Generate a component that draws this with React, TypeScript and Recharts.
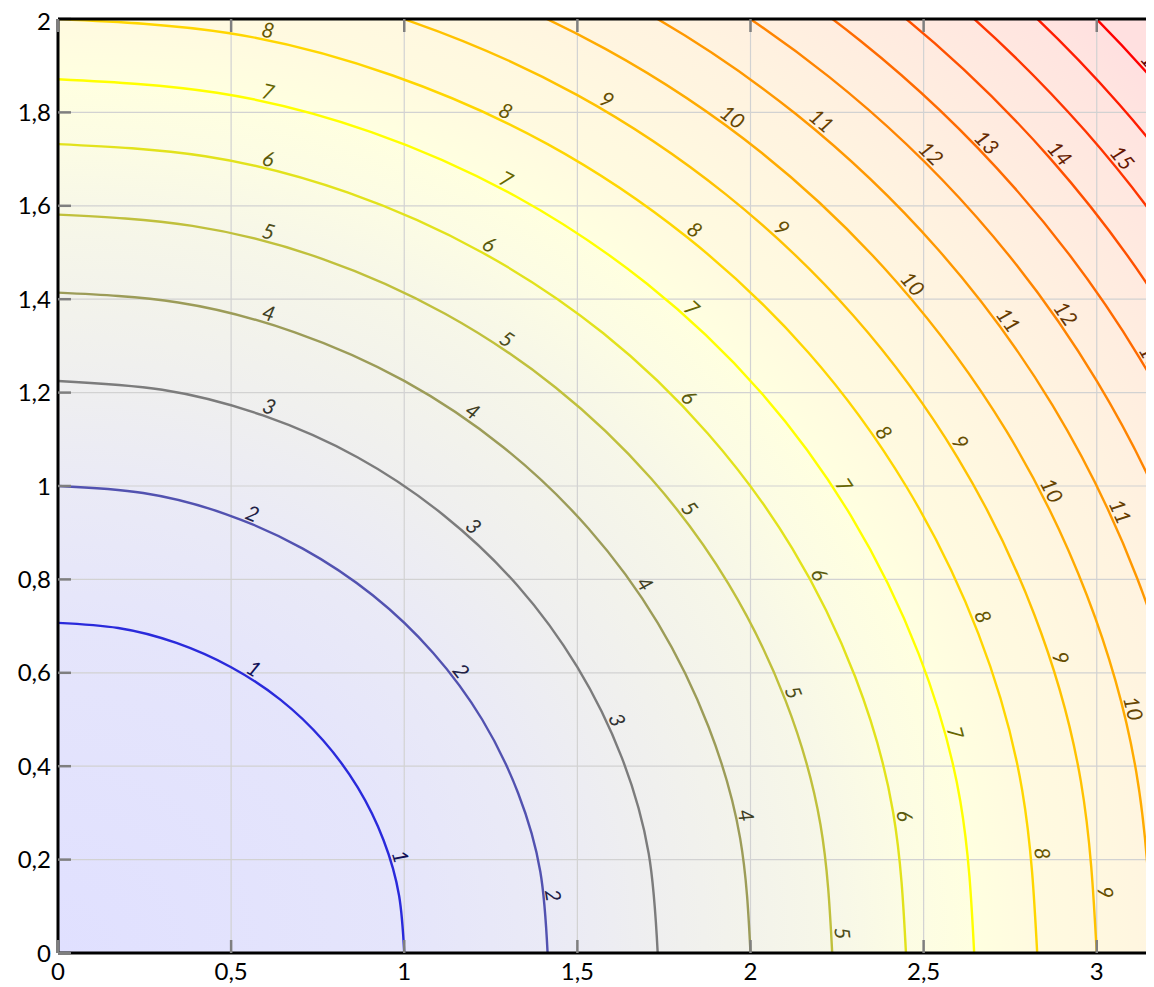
import { ComposedChart, Line, Scatter, XAxis, YAxis, CartesianGrid } from 'recharts';

type Pt = [number, number];

// iso lines, each running from the y axis round to the x axis
const contour1: Pt[] = [[0, 0.707], [0.174, 0.696], [0.342, 0.664], [0.5, 0.612], [0.643, 0.542], [0.766, 0.455], [0.866, 0.354], [0.94, 0.242], [0.985, 0.123], [1, 0]];
const contour2: Pt[] = [[0, 1], [0.246, 0.985], [0.484, 0.94], [0.707, 0.866], [0.909, 0.766], [1.083, 0.643], [1.225, 0.5], [1.329, 0.342], [1.393, 0.174], [1.414, 0]];
const contour3: Pt[] = [[0, 1.225], [0.301, 1.206], [0.592, 1.151], [0.866, 1.061], [1.113, 0.938], [1.327, 0.787], [1.5, 0.612], [1.628, 0.419], [1.706, 0.213], [1.732, 0]];
const contour4: Pt[] = [[0, 1.414], [0.347, 1.393], [0.684, 1.329], [1, 1.225], [1.286, 1.083], [1.532, 0.909], [1.732, 0.707], [1.879, 0.484], [1.97, 0.246], [2, 0]];
const contour5: Pt[] = [[0, 1.581], [0.388, 1.557], [0.765, 1.486], [1.118, 1.369], [1.437, 1.211], [1.713, 1.016], [1.936, 0.791], [2.101, 0.541], [2.202, 0.275], [2.236, 0]];
const contour6: Pt[] = [[0, 1.732], [0.425, 1.706], [0.838, 1.628], [1.225, 1.5], [1.575, 1.327], [1.876, 1.113], [2.121, 0.866], [2.302, 0.592], [2.412, 0.301], [2.449, 0]];
const contour7: Pt[] = [[0, 1.871], [0.459, 1.842], [0.905, 1.758], [1.323, 1.62], [1.701, 1.433], [2.027, 1.203], [2.291, 0.935], [2.486, 0.64], [2.606, 0.325], [2.646, 0]];
const contour8: Pt[] = [[0, 2], [0.491, 1.97], [0.967, 1.879], [1.414, 1.732], [1.818, 1.532], [2.167, 1.286], [2.449, 1], [2.658, 0.684], [2.785, 0.347], [2.828, 0]];
const contour9: Pt[] = [[0, 2.121], [0.521, 2.089], [1.026, 1.993], [1.5, 1.837], [1.928, 1.625], [2.298, 1.364], [2.598, 1.061], [2.819, 0.726], [2.954, 0.368], [3, 0]];
const contour10: Pt[] = [[0, 2.236], [0.549, 2.202], [1.082, 2.101], [1.581, 1.936], [2.033, 1.713], [2.422, 1.437], [2.739, 1.118], [2.972, 0.765], [3.114, 0.388], [3.162, 0]];
const contour11: Pt[] = [[0, 2.345], [0.576, 2.31], [1.134, 2.204], [1.658, 2.031], [2.132, 1.796], [2.541, 1.507], [2.872, 1.173], [3.117, 0.802], [3.266, 0.407], [3.317, 0]];
const contour12: Pt[] = [[0, 2.449], [0.602, 2.412], [1.185, 2.302], [1.732, 2.121], [2.227, 1.876], [2.654, 1.575], [3, 1.225], [3.255, 0.838], [3.411, 0.425], [3.464, 0]];
const contour13: Pt[] = [[0, 2.55], [0.626, 2.511], [1.233, 2.396], [1.803, 2.208], [2.318, 1.953], [2.762, 1.639], [3.123, 1.275], [3.388, 0.872], [3.551, 0.443], [3.606, 0]];
const contour14: Pt[] = [[0, 2.646], [0.65, 2.606], [1.28, 2.486], [1.871, 2.291], [2.405, 2.027], [2.866, 1.701], [3.24, 1.323], [3.516, 0.905], [3.685, 0.459], [3.742, 0]];
const contour15: Pt[] = [[0, 2.739], [0.673, 2.697], [1.325, 2.573], [1.937, 2.372], [2.49, 2.098], [2.967, 1.76], [3.354, 1.369], [3.639, 0.937], [3.814, 0.476], [3.873, 0]];
const contour16: Pt[] = [[0, 2.828], [0.695, 2.785], [1.368, 2.658], [2, 2.449], [2.571, 2.167], [3.064, 1.818], [3.464, 1.414], [3.759, 0.967], [3.939, 0.491], [4, 0]];
const contour17: Pt[] = [[0, 2.915], [0.716, 2.871], [1.41, 2.74], [2.062, 2.525], [2.65, 2.233], [3.158, 1.874], [3.571, 1.458], [3.874, 0.997], [4.06, 0.506], [4.123, 0]];

const levels = [1, 2, 3, 4, 5, 6, 7, 8, 9, 10, 11, 12, 13, 14, 15, 16, 17];
const contours: Pt[][] = [
  contour1, contour2, contour3, contour4, contour5, contour6, contour7, contour8, contour9,
  contour10, contour11, contour12, contour13, contour14, contour15, contour16, contour17,
];

// inline labels: level and the point on its line
const labels = [
  { level: 1, x: 0.55, y: 0.59 }, { level: 1, x: 0.96, y: 0.2 },
  { level: 2, x: 0.55, y: 0.92 }, { level: 2, x: 1.14, y: 0.59 }, { level: 2, x: 1.4, y: 0.12 },
  { level: 3, x: 0.6, y: 1.149 }, { level: 3, x: 1.18, y: 0.897 }, { level: 3, x: 1.587, y: 0.49 },
  { level: 4, x: 0.6, y: 1.349 }, { level: 4, x: 1.18, y: 1.142 }, { level: 4, x: 1.67, y: 0.778 }, { level: 4, x: 1.957, y: 0.29 },
  { level: 5, x: 0.6, y: 1.523 }, { level: 5, x: 1.28, y: 1.296 }, { level: 5, x: 1.8, y: 0.938 }, { level: 5, x: 2.096, y: 0.55 }, { level: 5, x: 2.235, y: 0.04 },
  { level: 6, x: 0.6, y: 1.679 }, { level: 6, x: 1.23, y: 1.498 }, { level: 6, x: 1.8, y: 1.175 }, { level: 6, x: 2.172, y: 0.8 }, { level: 6, x: 2.415, y: 0.29 },
  { level: 7, x: 0.6, y: 1.822 }, { level: 7, x: 1.28, y: 1.637 }, { level: 7, x: 1.81, y: 1.364 }, { level: 7, x: 2.245, y: 0.99 }, { level: 7, x: 2.562, y: 0.466 },
  { level: 8, x: 0.6, y: 1.954 }, { level: 8, x: 1.28, y: 1.783 }, { level: 8, x: 1.82, y: 1.531 }, { level: 8, x: 2.36, y: 1.102 }, { level: 8, x: 2.643, y: 0.712 }, { level: 8, x: 2.813, y: 0.21 },
  { level: 9, x: 1.57, y: 1.808 }, { level: 9, x: 2.07, y: 1.536 }, { level: 9, x: 2.58, y: 1.082 }, { level: 9, x: 2.867, y: 0.625 }, { level: 9, x: 2.995, y: 0.127 },
  { level: 10, x: 1.93, y: 1.772 }, { level: 10, x: 2.445, y: 1.418 }, { level: 10, x: 2.843, y: 0.98 }, { level: 10, x: 3.076, y: 0.518 },
  { level: 11, x: 2.185, y: 1.765 }, { level: 11, x: 2.72, y: 1.342 }, { level: 11, x: 3.04, y: 0.936 },
  { level: 12, x: 2.5, y: 1.696 }, { level: 12, x: 2.885, y: 1.356 },
  { level: 13, x: 2.66, y: 1.72 }, { level: 13, x: 3.13, y: 1.265 },
  { level: 14, x: 2.87, y: 1.697 },
  { level: 15, x: 3.05, y: 1.688 },
  { level: 17, x: 3.14, y: 1.889 },
];

const xTicks = [0, 0.5, 1, 1.5, 2, 2.5, 3];
const yTicks = [0, 0.2, 0.4, 0.6, 0.8, 1, 1.2, 1.4, 1.6, 1.8, 2];
const X_MAX = 3.2;
const Y_MAX = 2;
// corners of the frame, only used to give the frame axes a domain
const frame = [{ x: 0, y: 0 }, { x: X_MAX, y: Y_MAX }];

const LINE_COLORS: Record<number, string> = {
  0: '#0000ff', 1: '#2a2adb', 2: '#5252b0', 3: '#7c7c7c', 4: '#9c9c58', 5: '#c0c03c',
  6: '#e2e21c', 7: '#ffff00', 8: '#ffd600', 9: '#ffc200', 10: '#ffab00', 11: '#ff9800',
  12: '#ff8400', 13: '#ff6a00', 14: '#ff5000', 15: '#ff3500', 16: '#ff1c00', 17: '#ff0000',
};

const W = 1168;
const H = 979;
const MARGIN = { top: 11, right: 10, bottom: 0, left: 0 };
const Y_AXIS_W = 50;
const X_AXIS_H = 34;
const PLOT_W = W - MARGIN.left - MARGIN.right - Y_AXIS_W;
const PLOT_H = H - MARGIN.top - MARGIN.bottom - X_AXIS_H;
const KX = PLOT_W / X_MAX;
const KY = PLOT_H / Y_MAX;
const FONT = 'Lato, "Open Sans", sans-serif';

const rgb = (hex: string) => [1, 3, 5].map((i) => parseInt(hex.slice(i, i + 2), 16));
const toHex = (c: number[]) => '#' + c.map((v) => Math.round(v).toString(16).padStart(2, '0')).join('');
const shade = (hex: string, k: number) => toHex(rgb(hex).map((v) => v * k));
const tint = (hex: string, k: number) => toHex(rgb(hex).map((v) => 255 - (255 - v) * k));
const comma = (v: number) => String(v).replace('.', ',');
const noLabel = () => <g />;

// text direction follows the line (in pixels), blended between neighbouring segments
function labelAngle(level: number, x: number, y: number) {
  const pts = contours[levels.indexOf(level)].map(([px, py]) => [px * KX, -py * KY]);
  const lx = x * KX;
  const ly = -y * KY;
  const seg = pts.slice(0, -1).map((p, i) => Math.atan2(pts[i + 1][1] - p[1], pts[i + 1][0] - p[0]));
  const vert = pts.map((_, i) => {
    if (i === 0) return seg[0];
    if (i === pts.length - 1) return seg[seg.length - 1];
    return (seg[i - 1] + seg[i]) / 2;
  });
  let best = 0;
  let bestU = 0;
  let bestD = Infinity;
  for (let i = 0; i < seg.length; i++) {
    const [ax, ay] = pts[i];
    const dx = pts[i + 1][0] - ax;
    const dy = pts[i + 1][1] - ay;
    const u = Math.max(0, Math.min(1, ((lx - ax) * dx + (ly - ay) * dy) / (dx * dx + dy * dy)));
    const d = Math.hypot(ax + u * dx - lx, ay + u * dy - ly);
    if (d < bestD) {
      bestD = d;
      best = i;
      bestU = u;
    }
  }
  const a = vert[best] + (vert[best + 1] - vert[best]) * bestU;
  return (a * 180) / Math.PI;
}

function ContourLabel(props: any) {
  const { cx, cy, payload } = props;
  if (cx == null || cy == null) return null;
  const angle = labelAngle(payload.level, payload.x, payload.y);
  return (
    <text
      transform={`translate(${cx} ${cy}) rotate(${angle})`}
      y={-3}
      textAnchor="middle"
      fill={shade(LINE_COLORS[payload.level], 0.4)}
      fontFamily={FONT}
      fontStyle="italic"
      fontSize={21}
    >
      {payload.level}
    </text>
  );
}

export default function App() {
  const ox = MARGIN.left + Y_AXIS_W;
  const oy = MARGIN.top + PLOT_H;
  const outer = contour17[contour17.length - 1][0];
  const ratio = (contour1[0][1] * KY) / (contour1[contour1.length - 1][0] * KX);
  const stops = [0, ...levels].map((lv) => {
    const c = lv === 0 ? null : contours[levels.indexOf(lv)];
    const off = c ? c[c.length - 1][0] / outer : 0;
    return <stop key={lv} offset={off} stopColor={tint(LINE_COLORS[lv], 0.12)} />;
  });

  const tickStyle = { fontFamily: FONT, fontSize: 24, fill: '#000' };
  const axisLine = { stroke: '#000', strokeWidth: 3 };
  const innerTick = { stroke: '#7f7f7f', strokeWidth: 2.5 };

  return (
    <div style={{ width: 1146, overflow: 'hidden' }}>
      <style>{'html,body{overflow:hidden}'}</style>
      <ComposedChart width={W} height={H} margin={MARGIN}>
        <defs>
          <radialGradient
            id="field"
            gradientUnits="userSpaceOnUse"
            cx={0}
            cy={0}
            r={outer * KX}
            gradientTransform={`translate(${ox} ${oy}) scale(1 ${ratio})`}
          >
            {stops}
          </radialGradient>
        </defs>
        <CartesianGrid fill="url(#field)" stroke="#d2d2d2" strokeWidth={1.2} />
        <XAxis
          type="number"
          dataKey="x"
          domain={[0, X_MAX]}
          allowDataOverflow
          ticks={xTicks}
          tickFormatter={comma}
          tick={tickStyle}
          axisLine={axisLine}
          tickLine={false}
          tickSize={0}
          tickMargin={10}
          height={X_AXIS_H}
        />
        <YAxis
          type="number"
          dataKey="y"
          domain={[0, Y_MAX]}
          allowDataOverflow
          ticks={yTicks}
          tickFormatter={comma}
          tick={tickStyle}
          axisLine={axisLine}
          tickLine={false}
          tickSize={0}
          tickMargin={7}
          width={Y_AXIS_W}
        />
        <XAxis xAxisId="inBottom" dataKey="x" type="number" domain={[0, X_MAX]} allowDataOverflow ticks={xTicks}
          mirror tick={noLabel} axisLine={false} tickLine={innerTick} tickSize={13} />
        <YAxis yAxisId="inLeft" dataKey="y" type="number" domain={[0, Y_MAX]} allowDataOverflow ticks={yTicks}
          mirror tick={noLabel} axisLine={false} tickLine={innerTick} tickSize={13} />
        <XAxis xAxisId="top" dataKey="x" orientation="top" type="number" domain={[0, X_MAX]} allowDataOverflow ticks={xTicks}
          mirror tick={noLabel} axisLine={axisLine} tickLine={innerTick} tickSize={13} />
        <YAxis yAxisId="right" dataKey="y" orientation="right" type="number" domain={[0, Y_MAX]} allowDataOverflow ticks={yTicks}
          mirror tick={noLabel} axisLine={axisLine} tickLine={innerTick} tickSize={13} />
        <Line xAxisId="inBottom" yAxisId="inLeft" data={frame} dataKey="y" stroke="none" dot={false} activeDot={false} isAnimationActive={false} />
        <Line xAxisId="top" yAxisId="right" data={frame} dataKey="y" stroke="none" dot={false} activeDot={false} isAnimationActive={false} />
        {contours.map((c, i) => (
          <Line
            key={levels[i]}
            data={c.map(([x, y]) => ({ x, y }))}
            dataKey="y"
            type="natural"
            stroke={LINE_COLORS[levels[i]]}
            strokeWidth={2.4}
            dot={false}
            activeDot={false}
            isAnimationActive={false}
          />
        ))}
        <Scatter data={labels} dataKey="y" shape={(p: any) => <ContourLabel {...p} />} isAnimationActive={false} />
      </ComposedChart>
    </div>
  );
}
